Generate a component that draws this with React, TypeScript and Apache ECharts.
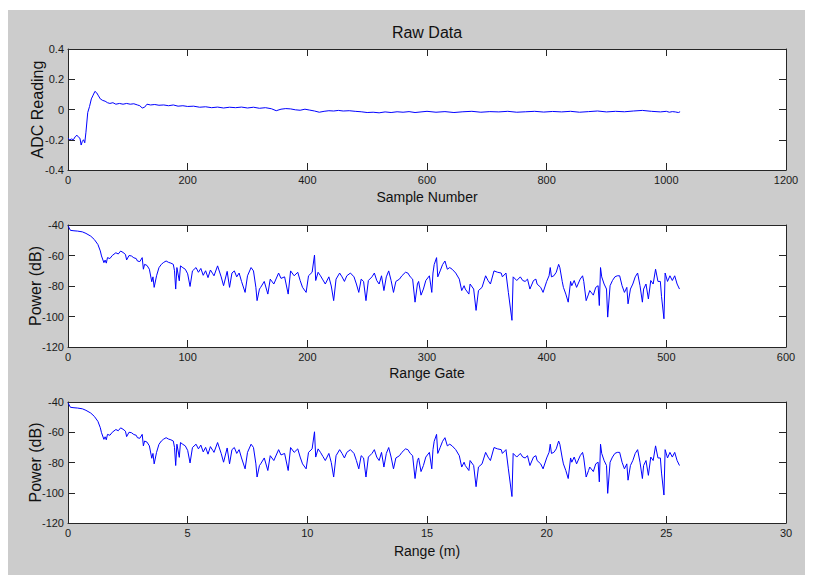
import React, { useEffect, useRef } from "react";
import * as echarts from "echarts";

// ---- Raw data (ADC reading vs sample number) ----
const rawSamples = [
  0, 3, 6, 9, 12, 15, 18, 20, 22, 24, 26, 28, 30, 33, 36, 39, 42, 45, 48, 51, 54, 58, 62, 66, 70, 75, 80, 86, 92, 98,
  104, 110, 116, 120, 124, 128, 132, 138, 145, 152, 160, 168, 176, 184, 192, 200, 210, 220, 230, 240, 250, 260, 270,
  280, 290, 300, 310, 320, 330, 340, 348, 356, 364, 372, 380, 388, 396, 404, 412, 420, 428, 436, 444, 452, 460, 470,
  480, 490, 500, 510, 520, 530, 540, 550, 560, 570, 580, 590, 600, 615, 630, 645, 660, 675, 690, 705, 720, 735, 750,
  765, 780, 795, 810, 825, 840, 855, 870, 885, 900, 915, 930, 945, 960, 975, 990, 1000, 1005, 1010, 1015, 1020, 1023,
];
const rawValues = [
  -0.19, -0.2, -0.195, -0.2, -0.18, -0.17, -0.185, -0.19, -0.235, -0.21, -0.2, -0.22, -0.15, -0.02, 0.02, 0.07, 0.095,
  0.12, 0.11, 0.09, 0.07, 0.06, 0.055, 0.045, 0.04, 0.045, 0.035, 0.04, 0.035, 0.04, 0.035, 0.038, 0.03, 0.025, 0.01,
  0.015, 0.035, 0.03, 0.033, 0.028, 0.03, 0.025, 0.03, 0.022, 0.025, 0.02, 0.022, 0.015, 0.018, 0.012, 0.016, 0.01,
  0.015, 0.012, 0.016, 0.01, 0.015, 0.008, 0.012, 0.005, -0.008, 0.002, 0.006, 0.004, -0.002, -0.005, 0.002, -0.004,
  -0.01, -0.018, -0.012, -0.008, -0.01, -0.006, -0.01, -0.008, -0.012, -0.015, -0.02, -0.018, -0.022, -0.016, -0.02,
  -0.015, -0.018, -0.014, -0.02, -0.016, -0.012, -0.018, -0.014, -0.02, -0.015, -0.012, -0.018, -0.014, -0.016,
  -0.012, -0.018, -0.015, -0.012, -0.017, -0.013, -0.016, -0.012, -0.018, -0.014, -0.01, -0.016, -0.012, -0.015,
  -0.01, -0.006, -0.012, -0.016, -0.012, -0.018, -0.014, -0.016, -0.02, -0.015,
];

// ---- Power spectrum (dB vs range gate) ----
const gateIndex = [
  0, 2, 5, 8, 12, 15, 19, 22, 25, 27, 28, 30, 31, 32, 33, 35, 37, 40, 42, 44, 46, 48, 49, 51, 53, 55, 57, 58, 60, 62,
  63, 64, 66, 68, 70, 71, 72, 74, 76, 78, 80, 82, 84, 86, 88, 89, 90, 91, 93, 94, 96, 98, 100, 102, 104, 107, 109, 111,
  113, 115, 117, 119, 121, 122, 125, 128, 130, 133, 135, 137, 139, 141, 143, 145, 148, 150, 153, 155, 157, 158, 160,
  161, 164, 167, 169, 172, 176, 178, 181, 184, 186, 189, 192, 194, 196, 199, 201, 204, 206, 207, 209, 211, 213, 215,
  218, 220, 222, 224, 227, 229, 231, 233, 236, 239, 241, 243, 245, 247, 249, 251, 254, 256, 258, 260, 262, 264, 266,
  268, 270, 272, 274, 277, 279, 282, 284, 286, 288, 290, 292, 293, 295, 297, 299, 302, 304, 305, 306, 308, 309, 311,
  313, 315, 317, 319, 321, 324, 327, 329, 331, 332, 335, 336, 339, 341, 343, 346, 349, 351, 353, 356, 359, 362, 363,
  366, 368, 371, 372, 375, 378, 380, 382, 384, 386, 389, 391, 392, 395, 397, 400, 402, 403, 404, 406, 408, 410, 411,
  413, 414, 416, 418, 420, 421, 423, 425, 428, 430, 431, 433, 435, 436, 439, 441, 443, 444, 445, 446, 448, 450, 451,
  453, 455, 457, 459, 461, 463, 465, 467, 468, 470, 472, 474, 476, 478, 480, 481, 483, 485, 487, 489, 491, 493, 495,
  496, 498, 499, 501, 503, 505, 507, 509, 511,
];
const powerDb = [
  -40.5, -43.5, -43.8, -44, -44.5, -45.5, -47.3, -49.5, -52.8, -57, -60.3, -64.7, -63, -65, -61.4, -62, -60, -58.2,
  -59, -57.1, -58, -59.3, -62.9, -60, -60.3, -61.5, -62, -63.6, -64, -61.4, -69, -65.8, -66.5, -69, -77.2, -74, -80.9,
  -73.3, -68, -65.8, -64.5, -63.6, -64.5, -65, -65.8, -70, -82, -67.9, -76.6, -66.8, -68, -69, -72, -80.3, -70.1,
  -67.9, -71, -68.5, -73, -70, -74.5, -69.5, -72, -73.3, -66.8, -74, -79.8, -70.4, -80.9, -71.5, -70.1, -74, -71.5,
  -77, -84.2, -73.3, -67.9, -70.1, -80.9, -89.6, -82, -80.9, -77, -85.3, -75.5, -78.7, -71.5, -75, -74, -85.3, -70.1,
  -73.3, -71, -76.4, -80.9, -84.2, -73.3, -71, -59.7, -76.4, -71, -73.3, -76, -78.7, -74, -80, -89.6, -75.5, -71.5,
  -74, -77, -73.3, -71.5, -74, -78.7, -84.2, -75.5, -77, -89.6, -76.4, -74, -71.5, -76.4, -78.7, -73.3, -83, -74,
  -70.1, -76.4, -84.2, -77, -75.5, -73.3, -71, -71.5, -74, -75.5, -90.6, -78.7, -77, -86, -82, -76.4, -73.3, -84.2,
  -71.5, -66, -61.4, -74, -70.1, -66, -63.6, -69, -67.9, -69, -71.5, -75.5, -83, -79.8, -82, -85.3, -78.7, -82, -96,
  -83, -80.9, -73.3, -76.4, -78.7, -70.1, -71, -71.5, -74, -71.5, -84.2, -102.5, -74, -76.4, -74, -76.4, -77, -75.5,
  -82, -76.4, -75.5, -78.7, -80.9, -84.2, -77, -73.3, -67.9, -74, -73.3, -71, -65.8, -67.9, -77, -80.9, -85.3, -90.6,
  -77, -79.8, -76.4, -80.9, -75.5, -73.3, -77, -89.6, -85.3, -83, -86, -80.9, -79.8, -92.8, -67.9, -74, -78.7, -82,
  -100.4, -79.8, -76.4, -74, -73.3, -73.3, -79.8, -84.2, -80.9, -91.7, -82, -78.7, -74, -71.5, -79.8, -90.6, -82,
  -78.7, -88.5, -76.4, -78.7, -69, -77, -77, -87, -101.5, -71.5, -77, -73.3, -76.4, -73.3, -78.7, -82,
];
const metersPerGate = 0.05;

// ---- Axis ranges / labels ----
const titleText = "Raw Data";
const xNames = ["Sample Number", "Range Gate", "Range (m)"];
const yNames = ["ADC Reading", "Power (dB)", "Power (dB)"];
const xRanges = [
  { min: 0, max: 1200, interval: 200 },
  { min: 0, max: 600, interval: 100 },
  { min: 0, max: 30, interval: 5 },
];
const yRanges = [
  { min: -0.4, max: 0.4, interval: 0.2 },
  { min: -120, max: -40, interval: 20 },
  { min: -120, max: -40, interval: 20 },
];

const FONT = "'Liberation Sans Narrow', 'Arial Narrow', 'Liberation Sans', Arial, sans-serif";
const LFONT = "'Liberation Sans', Arial, sans-serif";
const AX = "#262626";

export default function App() {
  const ref = useRef<HTMLDivElement>(null);
  useEffect(() => {
    if (!ref.current) return;
    const chart = echarts.init(ref.current, null, { renderer: "svg" });

    const grids = [
      { left: 60, top: 39, width: 718, height: 121 },
      { left: 60, top: 215, width: 718, height: 122 },
      { left: 60, top: 392, width: 718, height: 121 },
    ];

    const fmt = (v: number) => String(+v.toFixed(2));
    const xAxis: any[] = [];
    const yAxis: any[] = [];
    grids.forEach((_, i) => {
      const base = {
        gridIndex: i,
        type: "value",
        splitLine: { show: false },
        axisLine: { show: true, onZero: false, lineStyle: { color: AX, width: 1 } },
        axisTick: { show: true, inside: true, length: 7, lineStyle: { color: AX, width: 1 } },
      };
      xAxis.push({
        ...base,
        ...xRanges[i],
        position: "bottom",
        axisLabel: { color: "#1a1a1a", fontSize: 11, fontFamily: FONT, margin: 4, formatter: fmt },
      });
      xAxis.push({ ...base, ...xRanges[i], position: "top", axisLabel: { show: false } });
      yAxis.push({
        ...base,
        ...yRanges[i],
        position: "left",
        axisLabel: { color: "#1a1a1a", fontSize: 11, fontFamily: FONT, margin: 4, formatter: fmt },
      });
      yAxis.push({ ...base, ...yRanges[i], position: "right", axisLabel: { show: false } });
    });

    const rawData = rawSamples.map((x, i) => [x, rawValues[i]]);
    const gateData = gateIndex.map((g, i) => [g, powerDb[i]]);
    const rangeData = gateIndex.map((g, i) => [+(g * metersPerGate).toFixed(3), powerDb[i]]);
    const datas = [rawData, gateData, rangeData];

    const series = datas.map((d, i) => ({
      type: "line",
      xAxisIndex: i * 2,
      yAxisIndex: i * 2,
      data: d,
      showSymbol: false,
      symbol: "none",
      lineStyle: { color: "#0000ff", width: 1 },
      silent: true,
    }));

    const graphic: any[] = [
      {
        type: "text",
        x: 419,
        y: 22,
        style: { text: titleText, font: `16px ${LFONT}`, fill: "#111", textAlign: "center", textVerticalAlign: "middle" },
      },
    ];
    const xNameY = [187, 363, 541];
    const yNameX = [29, 27, 27];
    grids.forEach((g, i) => {
      graphic.push({
        type: "text",
        x: g.left + g.width / 2,
        y: xNameY[i],
        style: { text: xNames[i], font: `14px ${LFONT}`, fill: "#111", textAlign: "center", textVerticalAlign: "middle" },
      });
      graphic.push({
        type: "text",
        x: yNameX[i],
        y: g.top + g.height / 2,
        rotation: Math.PI / 2,
        style: { text: yNames[i], font: `16px ${LFONT}`, fill: "#111", textAlign: "center", textVerticalAlign: "middle" },
      });
    });

    chart.setOption({
      animation: false,
      backgroundColor: "#cccccc",
      grid: grids.map((g) => ({ ...g, show: true, backgroundColor: "#ffffff", borderWidth: 0 })),
      xAxis,
      yAxis,
      series,
      graphic,
    });
    return () => chart.dispose();
  }, []);

  return <div ref={ref} style={{ width: 805, height: 565, marginTop: 2 }} />;
}
